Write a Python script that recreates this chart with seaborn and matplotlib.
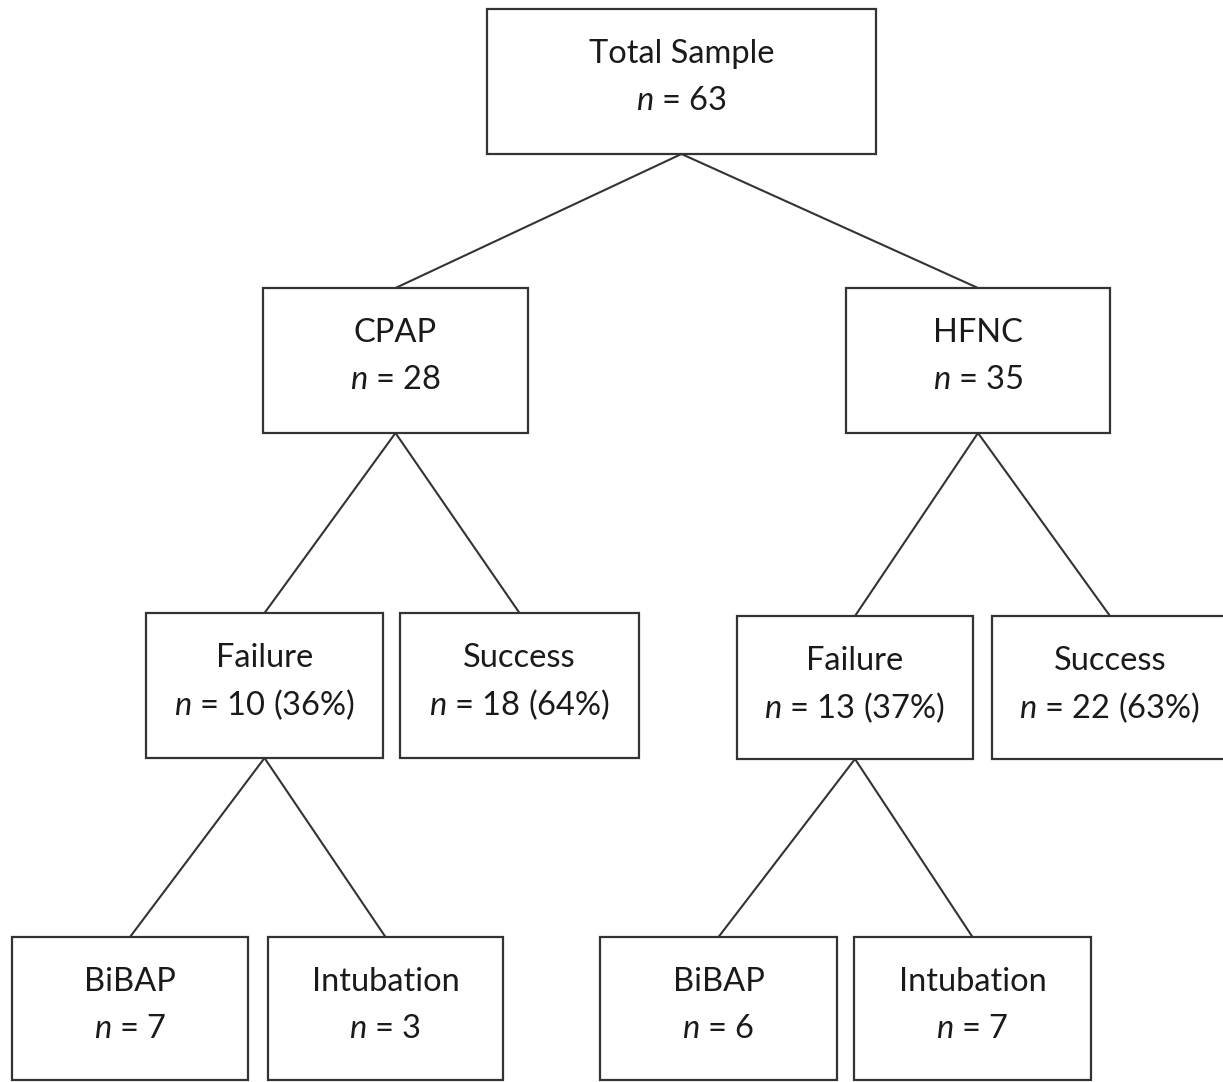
#!/usr/bin/env python3

import matplotlib
matplotlib.use("Agg")
import matplotlib.pyplot as plt
import matplotlib.patches as patches
import seaborn as sns
from pandas import DataFrame

# node data
node_names = ["total", "cpap", "hfnc", "cpap_fail", "cpap_succ",
              "hfnc_fail", "hfnc_succ", "cpap_bibap", "cpap_intub",
              "hfnc_bibap", "hfnc_intub"]
node_titles = ["Total Sample", "CPAP", "HFNC", "Failure", "Success",
               "Failure", "Success", "BiBAP", "Intubation", "BiBAP", "Intubation"]
node_counts = [63, 28, 35, 10, 18, 13, 22, 7, 3, 6, 7]
node_parents = [None, "total", "total", "cpap", "cpap", "hfnc", "hfnc",
                "cpap_fail", "cpap_fail", "hfnc_fail", "hfnc_fail"]
show_percent = [False, False, False, True, True, True, True, False, False, False, False]

# layout in pixels (x0, y0, x1, y1), y grows downward
layout = {
    "total": (487, 9, 876, 154),
    "cpap": (263, 288, 528, 433),
    "hfnc": (846, 288, 1110, 433),
    "cpap_fail": (146, 613, 383, 758),
    "cpap_succ": (400, 613, 639, 758),
    "hfnc_fail": (737, 616, 973, 759),
    "hfnc_succ": (992, 616, 1228, 759),
    "cpap_bibap": (12, 937, 248, 1080),
    "cpap_intub": (268, 937, 503, 1080),
    "hfnc_bibap": (600, 937, 837, 1080),
    "hfnc_intub": (854, 937, 1091, 1080),
}

W, H = 1223, 1082
line_color = "#333333"


def main():
    sns.set_style("white")
    plt.rcParams["font.family"] = ["Lato", "DejaVu Sans"]
    plt.rcParams["mathtext.fontset"] = "custom"
    plt.rcParams["mathtext.it"] = "Lato:italic"
    plt.rcParams["mathtext.rm"] = "Lato"

    fig = plt.figure(figsize=(W / 100, H / 100), dpi=100)
    ax = fig.add_axes([0, 0, 1, 1])

    counts = dict(zip(node_names, node_counts))

    # connector lines, parent bottom-centre to child top-centre
    rows = []
    for name, parent in zip(node_names, node_parents):
        if parent is None:
            continue
        px0, py0, px1, py1 = layout[parent]
        cx0, cy0, cx1, cy1 = layout[name]
        rows.append({"edge": name, "x": (px0 + px1) / 2, "y": py1})
        rows.append({"edge": name, "x": (cx0 + cx1) / 2, "y": cy0})
    edges = DataFrame(rows)
    sns.lineplot(data=edges, x="x", y="y", units="edge", estimator=None,
                 sort=False, color=line_color, linewidth=1.5, ax=ax, legend=False)
    ax.set_xlim(0, W)
    ax.set_ylim(H, 0)
    ax.axis("off")

    for name, title, n, parent, pct in zip(node_names, node_titles, node_counts,
                                           node_parents, show_percent):
        x0, y0, x1, y1 = layout[name]
        ax.add_patch(patches.Rectangle((x0, y0), x1 - x0, y1 - y0, fill=True,
                                       facecolor="white", edgecolor=line_color,
                                       linewidth=1.6, zorder=3))
        cx = (x0 + x1) / 2
        label = "$n$ = %d" % n
        if pct:
            label += " (%d%%)" % round(100 * n / counts[parent])
        ax.text(cx, y0 + 45, title, ha="center", va="center", fontsize=23.5,
                color="#1a1a1a", zorder=4)
        ax.text(cx, y0 + 92, label, ha="center", va="center", fontsize=23.5,
                color="#1a1a1a", zorder=4)

    plt.savefig("out.png", dpi=100)


if __name__ == "__main__":
    main()
